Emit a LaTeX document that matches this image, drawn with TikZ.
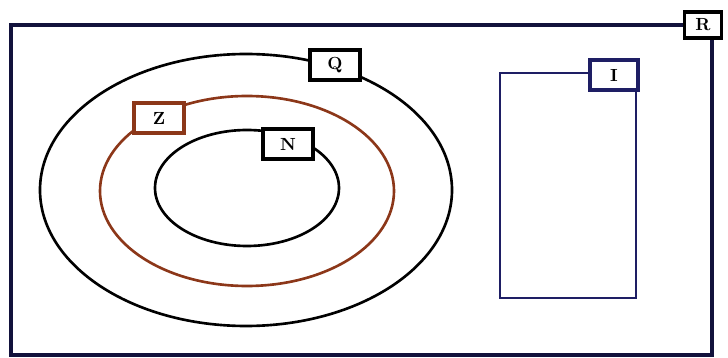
\documentclass[tikz,border=0pt]{standalone}
\usepackage{tikz}
\usetikzlibrary{positioning}
\definecolor{setnavy}{RGB}{30,30,100}
\definecolor{setbrown}{RGB}{140,55,25}

\tikzset{
  setlabel/.style={draw, fill=white, line width=1.9pt, font=\normalsize\bfseries,
    minimum width=1cm, minimum height=0.6cm, inner sep=0pt},
  setline/.style={line width=1.5pt}
}

\begin{document}
\begin{tikzpicture}[x=0.02cm, y=-0.02cm]
  \useasboundingbox (0,0) rectangle (728,358);

  %% Universe R
  \draw[setline, line width=1.8pt, setnavy!60!black] (703,25) -- (11,25) -- (11,355) -- (712,355) -- (712,30);

  %% Nested sets
  \draw[setline] (246,190) ellipse [x radius=206, y radius=136];
  \draw[setline, setbrown] (247,191) ellipse [x radius=147, y radius=95];
  \draw[setline] (247,188) ellipse [x radius=92, y radius=58];

  %% Set I
  \draw[setline, setnavy] (500,73) rectangle (636,298);

  %% Labels
  \node[setlabel, minimum width=0.74cm, minimum height=0.52cm] (R) at (703,25) {R};
  \node[setlabel] (Q) at (335,65) {Q};
  \node[setlabel, draw=setbrown] (Z) at (159,118) {Z};
  \node[setlabel] (N) at (288,144) {N};
  \node[setlabel, draw=setnavy, minimum width=0.96cm] (I) at (614,75) {I};
\end{tikzpicture}
\end{document}
